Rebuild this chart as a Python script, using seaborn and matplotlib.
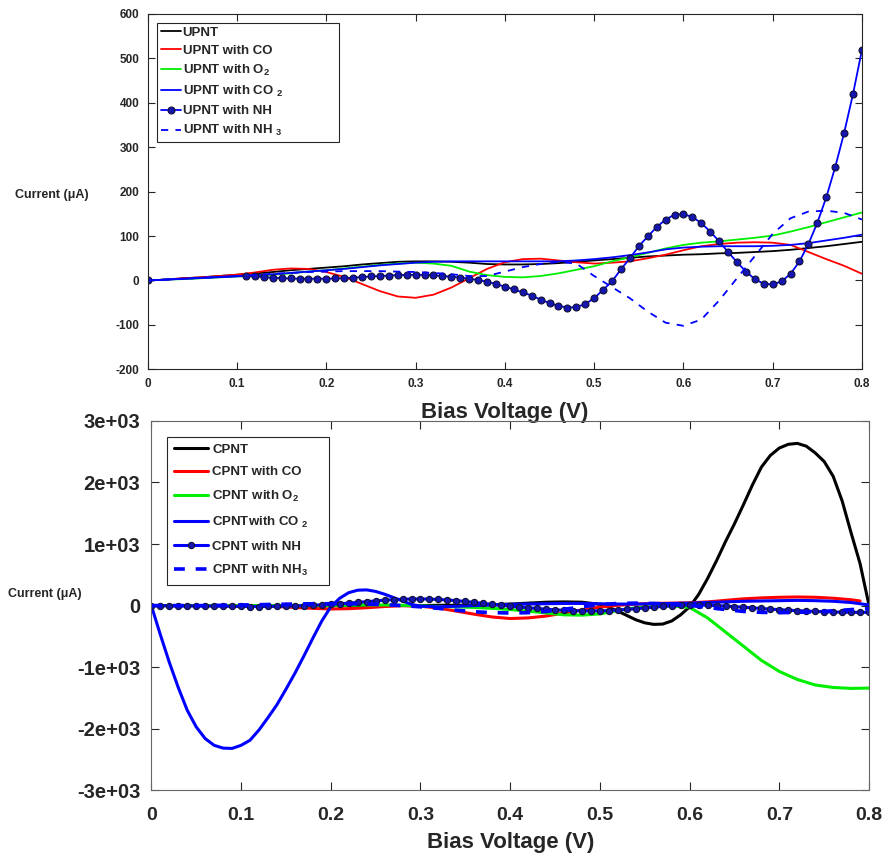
import numpy as np
import pandas as pd
import seaborn as sns
import matplotlib.pyplot as plt

# ---- top panel: UPNT (uA) ----
v_top = np.round(np.arange(0, 0.81, 0.02), 2)
upnt = [0, 2, 5, 7, 10, 13, 16, 19, 23, 26, 29, 32, 36, 39, 42, 43, 43, 42, 40, 37,
        36, 36, 37, 39, 42, 45, 48, 51, 54, 56, 58, 59, 61, 62, 64, 66, 69, 73, 77, 82, 87]
upnt_co = [0, 2, 5, 7, 10, 13, 18, 24, 27, 26, 19, 8, -8, -24, -36, -39, -32, -16, 5, 26,
           41, 48, 49, 45, 41, 38, 40, 43, 50, 58, 68, 77, 82, 85, 86, 85, 80, 64, 48, 33, 15]
upnt_o2 = [0, 2, 3, 5, 7, 9, 11, 13, 16, 20, 23, 27, 31, 35, 38, 40, 38, 33, 20, 12,
           8, 7, 10, 16, 24, 32, 43, 52, 62, 72, 80, 85, 88, 92, 96, 101, 110, 120, 131, 142, 153]
upnt_co2 = [0, 2, 4, 6, 8, 10, 12, 14, 17, 20, 23, 26, 30, 34, 37, 40, 42, 43, 43, 43,
            43, 43, 43, 43, 45, 48, 52, 57, 63, 70, 74, 76, 77, 77, 77, 78, 80, 84, 90, 96, 103]
upnt_nh3 = [0, 2, 4, 6, 8, 10, 12, 15, 17, 19, 20, 21, 21, 21, 20, 19, 17, 14, 10, 10,
            20, 30, 37, 42, 38, 10, -15, -40, -70, -95, -102, -88, -45, 5, 55, 105, 140, 155, 157, 152, 137]
v_top_nh = np.round(np.concatenate([[0], np.arange(0.11, 0.805, 0.01)]), 2)
upnt_nh = [0,
           10, 9, 7.5, 6, 5, 4.5, 4, 4, 4, 4, 4.5, 5, 6.5, 7.5, 9, 10, 11, 12, 12.5, 13,
           12.5, 11.5, 10, 8.5, 6.5, 4, 1, -3, -8, -14, -20, -27, -34, -43, -51, -57, -61, -60, -53, -40,
           -21, -2, 25, 50, 77, 99, 120, 137, 148, 149, 143, 129, 110, 88, 64, 41, 20, 3, -7.5, -9,
           -2, 15, 43, 82, 130, 187, 255, 332, 420, 519]

# ---- bottom panel: CPNT (uA) ----
v_bot = np.round(np.arange(0, 0.81, 0.02), 2)
v_bot_black = np.round(np.concatenate([np.arange(0, 0.505, 0.02), np.arange(0.51, 0.805, 0.01)]), 2)
cpnt = [0, 0, 0, 0, 0, 0, 0, 0, 0, 0, 0, 0, 0, 0, 0, 0, 5, 5, 10, 15, 25, 40, 55, 60, 55, 20,
        -30, -90, -160, -230, -280, -305, -300, -250, -150, -20,
        180, 440, 730, 1040, 1330, 1640, 1960, 2250, 2440, 2560,
        2620, 2635, 2590, 2480, 2340, 2100, 1700, 1180, 680, 0]
v_bot_co = np.round(np.concatenate([np.arange(0, 0.785, 0.02), [0.79]]), 2)
cpnt_co = [0, 0, 0, 0, 0, 0, -5, -15, -30, -45, -55, -50, -35, -15, 0, -10, -40, -90, -140, -185,
           -210, -200, -170, -120, -70, -25, 5, 25, 35, 40, 45, 60, 85, 110, 125, 135, 140, 135, 120, 95, 75]
cpnt_o2 = [0, 0, 0, 0, 0, 0, 0, 0, 0, 0, 0, 5, 10, 10, 5, -5, -15, -20, -30, -45,
           -65, -90, -120, -150, -155, -135, -80, -35, -15, -5, -30, -200, -430, -660, -890, -1070, -1200, -1290, -1330, -1345, -1340]
v_bot_co2 = np.round(np.concatenate([np.arange(0, 0.305, 0.01), np.arange(0.32, 0.805, 0.02)]), 2)
cpnt_co2 = [0, -470, -920, -1330, -1700, -1970, -2160, -2270, -2315, -2320,
            -2270, -2187, -2020, -1820, -1610, -1360, -1100, -820, -530, -250,
            -20, 120, 210, 250, 255, 230, 185, 130, 75, 20, -10,
            -20, -10, 0, 10, 20, 25, 30, 35, 35, 30, 25, 25, 30, 35, 40, 50, 60, 70, 75, 80, 85, 80, 70, 50, 10]
cpnt_nh3 = [0, 0, 0, 0, 5, 10, 15, 20, 25, 30, 30, 30, 25, 15, 0, -20, -45, -75, -100, -115,
            -120, -115, -95, -60, -20, 15, 35, 40, 35, 25, 5, -30, -65, -95, -110, -115, -110, -100, -85, -65, -50]
v_bot_nh = np.round(np.arange(0, 0.805, 0.01), 2)
cpnt_nh = [0, 0, -2, -3, -4, -5, -6, -8, -10, -12, -14, -15, -15, -14, -12, -9, -5, 0, 6, 13,
           21, 30, 40, 52, 64, 76, 87, 96, 103, 107, 108, 106, 100, 91, 80, 67, 52, 36, 20, 5,
           -10, -23, -35, -47, -58, -68, -76, -82, -86, -87, -85, -80, -72, -62, -50, -38, -26, -14, -4, 4,
           8, 9, 6, 0, -8, -17, -27, -37, -47, -57, -66, -75, -82, -89, -95, -100, -104, -107, -109, -110, -110]

x_ticks = ["0", "0.1", "0.2", "0.3", "0.4", "0.5", "0.6", "0.7", "0.8"]
y_ticks_bottom = ["-3e+03", "-2e+03", "-1e+03", "0", "1e+03", "2e+03", "3e+03"]

sns.set_style("ticks")
plt.rcParams["font.family"] = ["Liberation Sans", "DejaVu Sans"]
plt.rcParams["font.weight"] = "bold"
plt.rcParams["axes.unicode_minus"] = False
plt.rcParams["mathtext.fontset"] = "custom"
plt.rcParams["mathtext.bf"] = "Liberation Sans:bold"
plt.rcParams["mathtext.rm"] = "Liberation Sans:bold"
plt.rcParams["mathtext.default"] = "bf"

fig = plt.figure(figsize=(8.85, 8.59), dpi=100)
ax1 = fig.add_axes([0.167, 0.570, 0.807, 0.414])
ax2 = fig.add_axes([0.171, 0.080, 0.811, 0.430])
ax2.patch.set_visible(False)  # let the upper x label show through

# top panel
lw = 1.3
sns.lineplot(x=v_top, y=upnt, ax=ax1, color="black", lw=lw, label="UPNT")
sns.lineplot(x=v_top, y=upnt_co, ax=ax1, color="red", lw=lw, label="UPNT with CO")
sns.lineplot(x=v_top, y=upnt_o2, ax=ax1, color="#00ee00", lw=lw, label="UPNT with O$_2$")
sns.lineplot(x=v_top, y=upnt_co2, ax=ax1, color="blue", lw=lw, label="UPNT with CO $_2$")
sns.lineplot(x=v_top_nh, y=upnt_nh, ax=ax1, color="blue", lw=lw, marker="o", ms=5,
             markerfacecolor="#1515b0", markeredgecolor="#111133", mew=0.8, label="UPNT with NH")
sns.lineplot(x=v_top, y=upnt_nh3, ax=ax1, color="blue", lw=lw, linestyle=(0, (4, 4)),
             label="UPNT with NH $_3$")

ax1.set_xlim(0, 0.8)
ax1.set_ylim(-200, 600)
ax1.set_xticks(np.arange(0, 0.81, 0.1))
ax1.set_xticklabels(x_ticks)
ax1.set_yticks(np.arange(-200, 601, 100))
ax1.tick_params(direction="in", top=True, right=True, labelsize=8.5, length=5,
                colors="#262626", pad=6)
ax1.set_xlabel("Bias Voltage (V)", fontsize=16, fontweight="bold", color="#262626", labelpad=9)
ax1.set_ylabel("Current (\u03bcA)", fontsize=9, fontweight="bold", rotation=0,
               color="#262626", ha="center", va="center")
ax1.yaxis.set_label_coords(-0.134, 0.49)
leg1 = ax1.legend(loc="upper left", bbox_to_anchor=(0.0126, 0.5, 0.255, 0.475), mode="expand",
                  borderaxespad=0, fancybox=False, framealpha=1, edgecolor="#262626", fontsize=9.5,
                  handlelength=1.5, handletextpad=0.15, labelspacing=0.45, borderpad=0.3)
leg1.get_frame().set_linewidth(0.8)

# bottom panel
lw = 2.2
sns.lineplot(x=v_bot_black, y=cpnt, ax=ax2, color="black", lw=lw, label="CPNT")
sns.lineplot(x=v_bot_co, y=cpnt_co, ax=ax2, color="red", lw=lw, label="CPNT with CO")
sns.lineplot(x=v_bot, y=cpnt_o2, ax=ax2, color="#00ee00", lw=lw, label="CPNT with O$_2$")
sns.lineplot(x=v_bot_co2, y=cpnt_co2, ax=ax2, color="blue", lw=lw, label="CPNTwith CO $_2$")
sns.lineplot(x=v_bot_nh, y=cpnt_nh, ax=ax2, color="blue", lw=lw, marker="o", ms=4.5,
             markerfacecolor="#1515b0", markeredgecolor="#111133", mew=0.8, label="CPNT with NH")
sns.lineplot(x=v_bot, y=cpnt_nh3, ax=ax2, color="blue", lw=lw + 0.4, linestyle=(0, (3, 3)),
             label="CPNT with NH$_3$")

ax2.set_xlim(0, 0.8)
ax2.set_ylim(-3000, 3000)
ax2.set_xticks(np.arange(0, 0.81, 0.1))
ax2.set_xticklabels(x_ticks)
ax2.set_yticks(np.arange(-3000, 3001, 1000))
ax2.set_yticklabels(y_ticks_bottom)
ax2.tick_params(direction="in", top=True, right=True, labelsize=14.5, length=6,
                colors="#262626", pad=8)
ax2.tick_params(axis="x", labelsize=14, pad=12)
for s in ax2.spines.values():
    s.set_color("#666666")
ax2.set_xlabel("Bias Voltage (V)", fontsize=16, fontweight="bold", color="#262626", labelpad=6)
ax2.set_ylabel("Current (\u03bcA)", fontsize=9, fontweight="bold", rotation=0,
               color="#262626", ha="center", va="center")
ax2.yaxis.set_label_coords(-0.148, 0.531)
leg2 = ax2.legend(loc="upper left", bbox_to_anchor=(0.0223, 0.5, 0.2256, 0.457), mode="expand",
                  borderaxespad=0, fancybox=False, framealpha=1, edgecolor="#262626", fontsize=9.5,
                  handlelength=2.6, handletextpad=0.3, labelspacing=0.8, borderpad=0.5)
leg2.get_frame().set_linewidth(0.8)

fig.savefig("out.png", dpi=100)
